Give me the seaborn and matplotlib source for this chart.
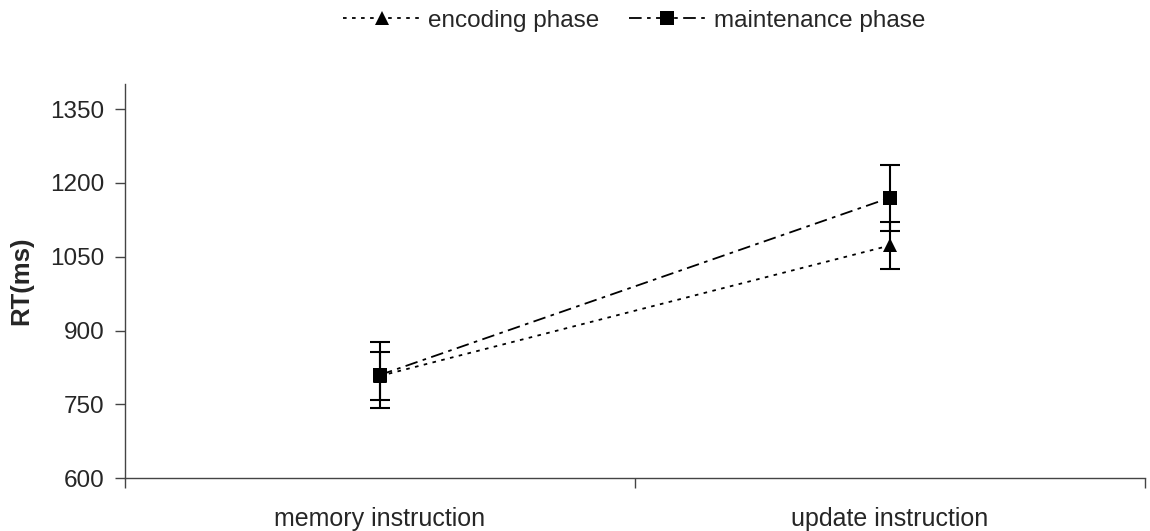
import numpy as np
import pandas as pd
import matplotlib
matplotlib.use("Agg")
import matplotlib.pyplot as plt
from matplotlib.ticker import FixedLocator
import seaborn as sns

# ---- data ----
categories = ["memory instruction", "update instruction"]
series_names = ["encoding phase", "maintenance phase"]
encoding_rt = [808, 1073]
encoding_err = [49, 47]
maintenance_rt = [810, 1170]
maintenance_err = [67, 67]
y_ticks = [600, 750, 900, 1050, 1200, 1350]

sns.set_theme(style="white")
plt.rcParams["font.family"] = ["Liberation Sans", "DejaVu Sans"]

pos = np.arange(len(categories))
df = pd.DataFrame({
    "x": np.concatenate([pos, pos]),
    "RT": encoding_rt + maintenance_rt,
    "phase": [series_names[0]] * len(categories) + [series_names[1]] * len(categories),
})

fig = plt.figure(figsize=(11.5, 5.31), dpi=100)
ax = fig.add_axes([125 / 1150, 1 - 478.3 / 531, (1145 - 125) / 1150, (478.3 - 84) / 531])

sns.lineplot(
    data=df, x="x", y="RT", style="phase", hue="phase",
    palette={series_names[0]: "black", series_names[1]: "black"},
    dashes={series_names[0]: (2, 3), series_names[1]: (7, 3, 2, 3)},
    markers={series_names[0]: "^", series_names[1]: "s"},
    markersize=10, linewidth=1.3, markeredgewidth=0,
    ax=ax, legend=True, zorder=3,
)

ax.errorbar(pos, encoding_rt, yerr=encoding_err, fmt="none", ecolor="black",
            elinewidth=1.5, capsize=7.5, capthick=1.5, zorder=2)
ax.errorbar(pos, maintenance_rt, yerr=maintenance_err, fmt="none", ecolor="black",
            elinewidth=1.5, capsize=7.5, capthick=1.5, zorder=2)

ax.set_xlim(-0.5, len(categories) - 0.5)
ax.set_ylim(600, 1401)
ax.set_yticks(y_ticks)
ax.set_yticklabels([str(v) for v in y_ticks], fontsize=17.5)
ax.set_xticks(pos)
ax.set_xticklabels(categories, fontsize=18)
ax.xaxis.set_minor_locator(FixedLocator(np.arange(-0.5, len(categories), 1.0)))
ax.tick_params(axis="x", which="major", length=0, pad=21)
ax.tick_params(axis="x", which="minor", length=7, width=1, color="#444444", direction="out", bottom=True)
ax.tick_params(axis="y", which="major", length=7, width=1, color="#444444", direction="out", left=True, pad=8)

ax.set_xlabel("")
ax.set_ylabel("RT(ms)", fontsize=18.5, fontweight="bold", labelpad=12)

for s in ["top", "right"]:
    ax.spines[s].set_visible(False)
for s in ["left", "bottom"]:
    ax.spines[s].set_color("#444444")
    ax.spines[s].set_linewidth(1)

handles, labels = ax.get_legend_handles_labels()
ax.legend(handles, labels, loc="center", bbox_to_anchor=(634 / 1150, 1 - 21 / 531),
          bbox_transform=fig.transFigure, ncol=2, frameon=False, fontsize=17.5,
          handlelength=3.2, handletextpad=0.3, columnspacing=1.2)

fig.savefig("out.png", dpi=100)
